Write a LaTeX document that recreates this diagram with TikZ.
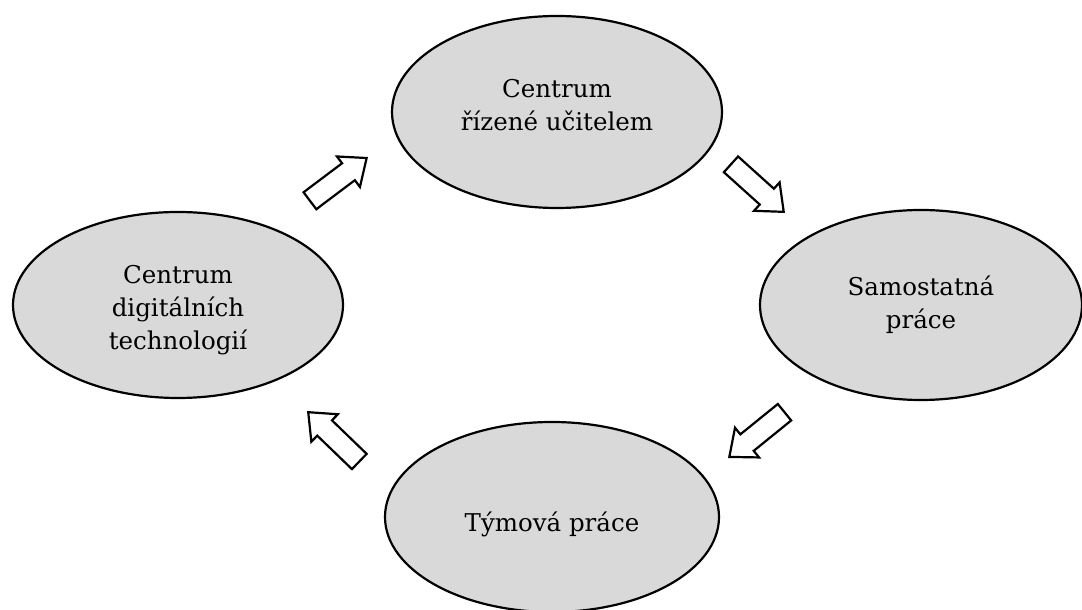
\documentclass[tikz,border=0pt]{standalone}
\usepackage{fontspec}
\setmainfont{DejaVu Serif}
\usetikzlibrary{shapes.geometric,shapes.arrows}
\definecolor{boxgray}{RGB}{217,217,217}

\begin{document}
\begin{tikzpicture}[x=1pt, y=1pt, thick]
% Definition of blocks:
\tikzset{%
  centrum/.style = {draw, line width=2.2pt, ellipse, fill=boxgray, minimum width=330pt, minimum height=190pt, inner sep=0pt},
  schrift/.style = {align=center, font=\fontsize{24.5}{33}\selectfont},
  pfeil/.style   = {draw, line width=2.2pt, single arrow, fill=white, inner sep=9.5pt, minimum height=71pt, single arrow head extend=8.5pt, single arrow tip angle=80, anchor=tip}
}

\useasboundingbox (0,0) rectangle (1082,610);

\draw
	node [centrum, minimum height=192pt, label={[schrift, yshift=7pt]center:Centrum\\řízené učitelem}] (Ucitel) at (557,498) {}
	node [centrum, minimum width=322pt, label={[schrift]center:Samostatná\\práce}] (Samostatna) at (921,305) {}
	node [centrum, minimum width=334pt, label={[schrift, yshift=-7pt]center:Týmová práce}] (Tymova) at (552,93) {}
	node [centrum, minimum height=186pt, label={[schrift, yshift=-5pt]center:Centrum\\digitálních\\technologií}] (Digital) at (178,305) {};

% Block arrows between the centres
\draw
	node [pfeil, rotate=37] (Pfeil1) at (368,453) {}
	node [pfeil, rotate=-42] (Pfeil2) at (785,397) {}
	node [pfeil, rotate=219] (Pfeil3) at (728,152) {}
	node [pfeil, rotate=136] (Pfeil4) at (307,199) {};

\end{tikzpicture}
\end{document}
